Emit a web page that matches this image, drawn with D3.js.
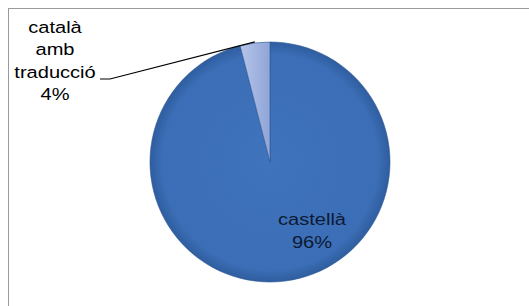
<!DOCTYPE html>
<html><head><meta charset="utf-8">
<script src="https://cdn.jsdelivr.net/npm/d3@7"></script>
<style>html,body{margin:0;padding:0;background:#fff;overflow:hidden}</style>
</head><body>
<svg id="c" width="529" height="306"></svg>
<script>
const categories = ["castellà", "català amb traducció"];
const values = [96, 4];
const labelLines = [["castellà", "96%"], ["català", "amb", "traducció", "4%"]];

const svg = d3.select("#c");
svg.append("rect").attr("x", 8.5).attr("y", 8.5).attr("width", 540).attr("height", 320)
  .attr("fill", "#fff").attr("stroke", "#9a9a9a").attr("stroke-width", 1);

const defs = svg.append("defs");
const g1 = defs.append("radialGradient").attr("id", "gBlue").attr("cx", "50%").attr("cy", "50%").attr("r", "50%");
g1.append("stop").attr("offset", "0%").attr("stop-color", "#3f73bb");
g1.append("stop").attr("offset", "90%").attr("stop-color", "#3b6eb6");
g1.append("stop").attr("offset", "100%").attr("stop-color", "#2f5d9f");
const g2 = defs.append("linearGradient").attr("id", "gLight").attr("x1", "0%").attr("x2", "100%").attr("y1", "0%").attr("y2", "0%");
g2.append("stop").attr("offset", "0%").attr("stop-color", "#b6c5e9");
g2.append("stop").attr("offset", "100%").attr("stop-color", "#8fa5d8");

const cx = 270, cy = 162, r = 120;
const colors = d3.scaleOrdinal().domain(categories).range(["url(#gBlue)", "url(#gLight)"]);
const pie = d3.pie().sort(null).value(d => d)(values);
const arc = d3.arc().innerRadius(0).outerRadius(r);
const g = svg.append("g").attr("transform", `translate(${cx},${cy})`);
g.selectAll("path").data(pie).join("path")
  .attr("d", arc)
  .attr("fill", (d, i) => colors(categories[i]))
  .attr("stroke", "#2c5794").attr("stroke-width", 0.6);

// leader line for small slice
const small = pie[1];
const mid = (small.startAngle + small.endAngle) / 2;
const ex = cx + Math.sin(mid) * (r + 1), ey = cy - Math.cos(mid) * (r + 1);
svg.append("path")
  .attr("d", `M100,79 L110,79 L${ex},${ey}`)
  .attr("fill", "none").attr("stroke", "#000").attr("stroke-width", 1.2);

function label(lines, x, y0, dy, fill) {
  const t = svg.append("g").attr("transform", `translate(${x},${y0}) scale(1.18,1)`);
  lines.forEach((s, i) => {
    t.append("text").attr("x", 0).attr("y", i * dy).attr("text-anchor", "middle")
      .attr("font-family", "Liberation Sans, Arial, sans-serif").attr("font-size", 17)
      .attr("fill", fill).text(s);
  });
}
label(labelLines[1], 55, 33, 22.3, "#000");
label(labelLines[0], 312, 225, 23, "#0d1a33");
</script>
</body></html>
